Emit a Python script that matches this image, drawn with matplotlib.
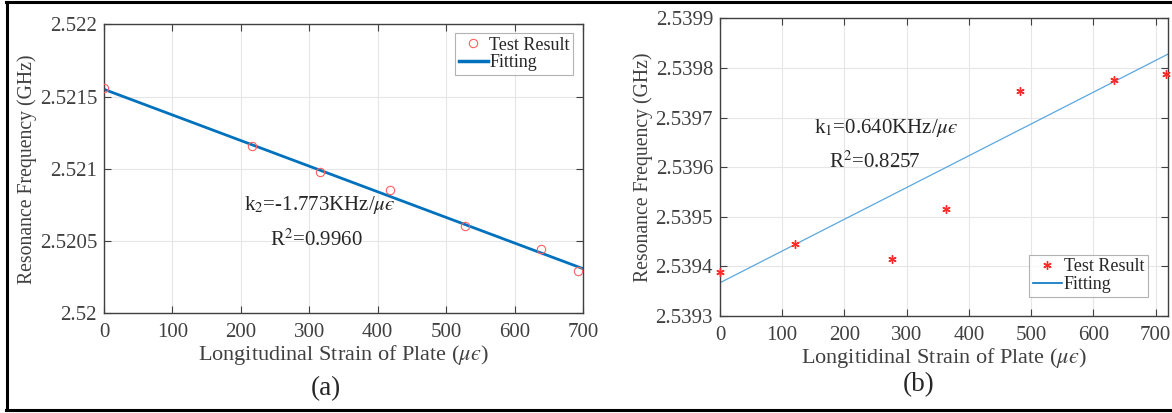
import matplotlib
matplotlib.use('Agg')
import matplotlib.pyplot as plt
import numpy as np
from matplotlib.lines import Line2D

plt.rcParams['font.family'] = ['Liberation Serif', 'DejaVu Serif']
plt.rcParams['mathtext.fontset'] = 'stix'

# (a) test results and linear fit
strain_a = [0, 216, 316, 418, 528, 638, 693]
freq_a = [2.521557, 2.521158, 2.520978, 2.520856, 2.520607, 2.520443, 2.520293]
slope_a = -1.773e-6   # GHz per micro-strain
icpt_a = 2.52155
xticks_a = [0, 100, 200, 300, 400, 500, 600, 700]
yticks_a = [2.52, 2.5205, 2.521, 2.5215, 2.522]
ylabels_a = ['2.52', '2.5205', '2.521', '2.5215', '2.522']

# (b) test results and linear fit
strain_b = [0, 120, 276, 363, 482, 634, 716]
freq_b = [2.539389, 2.539446, 2.5394155, 2.539516, 2.539754, 2.539775, 2.539787]
slope_b = 0.640e-6
icpt_b = 2.539367
xticks_b = [0, 100, 200, 300, 400, 500, 600, 700]
yticks_b = [2.5393, 2.5394, 2.5395, 2.5396, 2.5397, 2.5398, 2.5399]
ylabels_b = ['2.5393', '2.5394', '2.5395', '2.5396', '2.5397', '2.5398', '2.5399']

txt = '#404040'
ue = '$\\mu\u03f5$'  # micro-strain unit, lunate epsilon
W, H = 1172, 413
fig = plt.figure(figsize=(W / 100, H / 100), dpi=100)


def style(ax):
    for s in ax.spines.values():
        s.set_color('#404040')
        s.set_linewidth(1.0)
    ax.tick_params(direction='in', length=5, width=0.8, top=True, right=True,
                   colors='#404040', labelcolor=txt, labelsize=15, pad=5)
    ax.tick_params(axis='x', pad=7)
    ax.grid(True, color='#e6e6e6', linewidth=0.8)
    ax.set_axisbelow(True)


ax1 = fig.add_axes([104 / W, 1 - 313.3 / H, 479 / W, 289 / H])
style(ax1)
xa = np.array([0, 700])
ax1.plot(strain_a, freq_a, 'o', mfc='none', mec='#ff6060', ms=6, mew=0.8, zorder=3)
ax1.plot(xa, icpt_a + slope_a * xa, color='#0072BD', lw=2, zorder=2)
ax1.set_xlim(0, 700)
ax1.set_ylim(2.52, 2.522)
ax1.set_xticks(xticks_a)
ax1.set_yticks(yticks_a)
ax1.set_yticklabels(ylabels_a)
ax1.set_xlabel('Longitudinal Strain of Plate (' + ue + ')', fontsize=16, color=txt, labelpad=1)
ax1.set_ylabel('Resonance Frequency (GHz)', fontsize=14.2, color=txt, labelpad=2)
ax1.text(316, 2.52075, r'k$_2$=-1.773KHz/' + ue, fontsize=15, color='#262626',
         ha='center', va='center')
ax1.text(311, 2.520507, r'R$^2$=0.9960', fontsize=15, color='#262626', ha='center', va='center')
h1 = [Line2D([], [], ls='none', marker='o', mfc='none', mec='#ff6060', ms=6, mew=0.8),
      Line2D([], [], color='#0072BD', lw=2.5)]
leg1 = ax1.legend(h1, ['Test Result', 'Fitting'], loc='upper right', bbox_to_anchor=(0.98, 0.97),
                  fontsize=13, frameon=True, fancybox=False, edgecolor='#a0a0a0',
                  borderpad=0.2, labelspacing=0.05, handlelength=1.6, handletextpad=0.1,
                  borderaxespad=0)
leg1.get_frame().set_linewidth(0.8)
for t in leg1.get_texts():
    t.set_color('#262626')
fig.text(326 / W, 1 - 389 / H, '(a)', fontsize=19.5, ha='center', va='center', color='#262626')

ax2 = fig.add_axes([720 / W, 1 - 316 / H, 448 / W, 297.7 / H])
style(ax2)
xb = np.array([0, 720])
ax2.plot(strain_b, freq_b, ls='none', marker=(6, 2, 0), color='#ff2a2a', ms=6, mew=1.0,
         zorder=3, clip_on=False)
ax2.plot(xb, icpt_b + slope_b * xb, color='#5aa8e0', lw=0.9, zorder=2)
ax2.set_xlim(0, 720)
ax2.set_ylim(2.5393, 2.5399)
ax2.set_xticks(xticks_b)
ax2.set_yticks(yticks_b)
ax2.set_yticklabels(ylabels_b)
ax2.set_xlabel('Longitidinal Strain of Plate (' + ue + ')', fontsize=16, color=txt, labelpad=1)
ax2.set_ylabel('Resonance Frequency (GHz)', fontsize=14.2, color=txt, labelpad=2)
ax2.text(268, 2.539679, r'k$_1$=0.640KHz/' + ue, fontsize=15, color='#262626',
         ha='center', va='center')
ax2.text(249, 2.53961, r'R$^2$=0.8257', fontsize=15, color='#262626', ha='center', va='center')
h2 = [Line2D([], [], ls='none', marker=(6, 2, 0), color='#ff2a2a', ms=6, mew=1.0),
      Line2D([], [], color='#0072BD', lw=1.2)]
leg2 = ax2.legend(h2, ['Test Result', 'Fitting'], loc='lower right', bbox_to_anchor=(0.955, 0.065),
                  fontsize=13, frameon=True, fancybox=False, edgecolor='#a0a0a0',
                  borderpad=0.2, labelspacing=0.05, handlelength=1.6, handletextpad=0.1,
                  borderaxespad=0)
leg2.get_frame().set_linewidth(0.8)
for t in leg2.get_texts():
    t.set_color('#262626')
fig.text(919 / W, 1 - 385 / H, '(b)', fontsize=19.5, ha='center', va='center', color='#262626')

# outer frame (top, bottom, left)
fig.add_artist(Line2D([6 / W, 1], [1 - 1.5 / H, 1 - 1.5 / H], color='black', lw=2.2))
fig.add_artist(Line2D([6 / W, 1], [1 - 410 / H, 1 - 410 / H], color='black', lw=2.2))
fig.add_artist(Line2D([7 / W, 7 / W], [1 - 1.5 / H, 1 - 410 / H], color='black', lw=2.2))

plt.savefig('out.png', dpi=100)
